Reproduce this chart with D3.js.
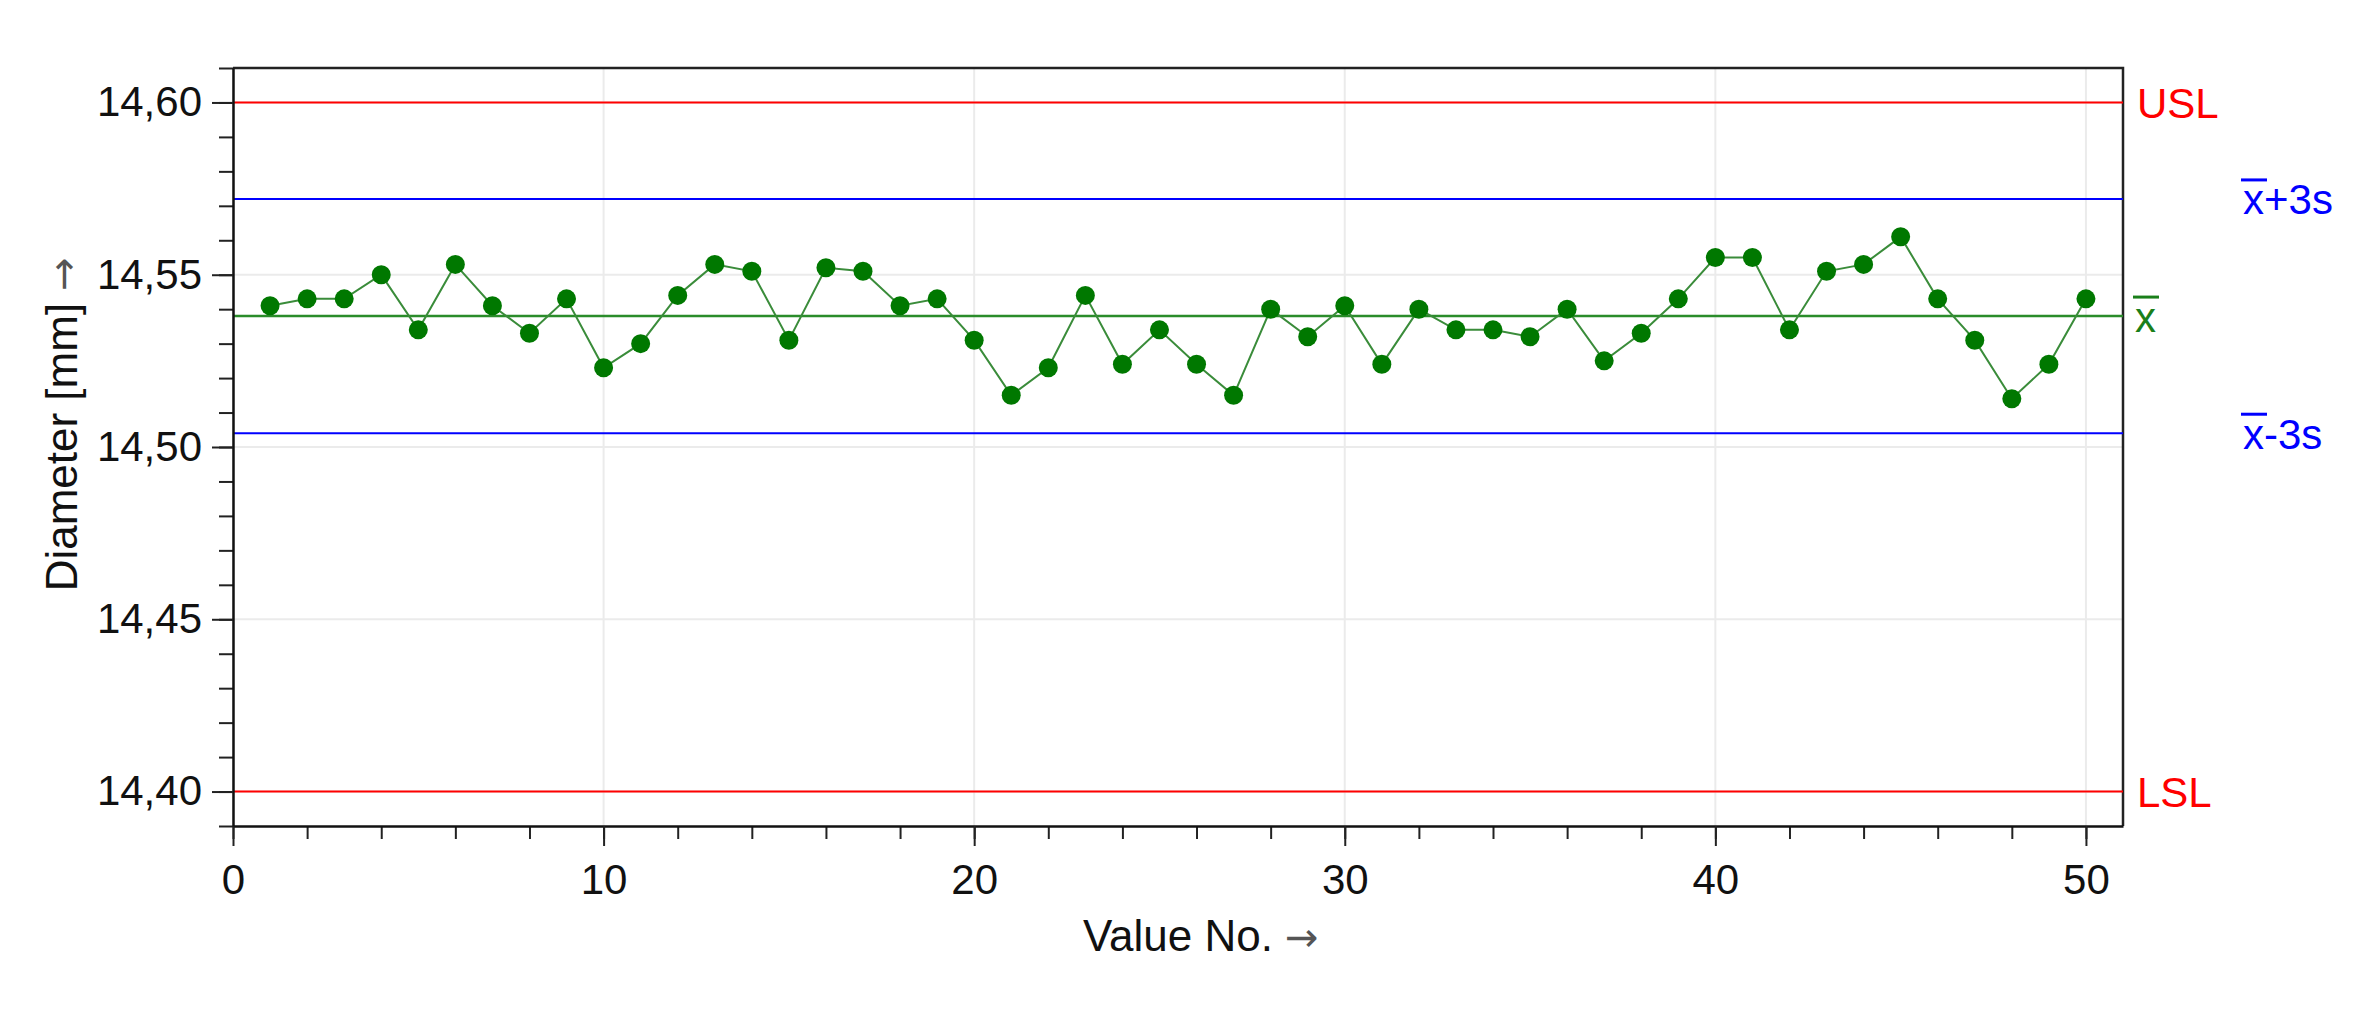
<!DOCTYPE html>
<html>
<head>
<meta charset="utf-8">
<script src="https://cdn.jsdelivr.net/npm/d3@7"></script>
<style>
  body { margin: 0; background: #fff; }
  svg { display: block; font-family: "Liberation Sans", Arial, sans-serif; }
</style>
</head>
<body>
<div id="chart"></div>
<script>
// Diameter measurements, value no. 1..50
const diameters = [
  14.541, 14.543, 14.543, 14.550, 14.534, 14.553, 14.541, 14.533, 14.543, 14.523,
  14.530, 14.544, 14.553, 14.551, 14.531, 14.552, 14.551, 14.541, 14.543, 14.531,
  14.515, 14.523, 14.544, 14.524, 14.534, 14.524, 14.515, 14.540, 14.532, 14.541,
  14.524, 14.540, 14.534, 14.534, 14.532, 14.540, 14.525, 14.533, 14.543, 14.555,
  14.555, 14.534, 14.551, 14.553, 14.561, 14.543, 14.531, 14.514, 14.524, 14.543
];

// Specification limits
const specLimits = [14.60, 14.40];
const specLabels = ['USL', 'LSL'];

// Mean and +/- 3s limits
const meanValue = 14.538;
const controlLimits = [14.572, 14.504];
const controlLabels = ['+3s', '-3s'];

// Axes
const xDomain = [0, 51];
const yDomain = [14.39, 14.61];
const xMajorTicks = [0, 10, 20, 30, 40, 50];
const xMinorTicks = d3.range(0, 51, 2);
const yMajorTicks = [14.40, 14.45, 14.50, 14.55, 14.60];
const yMinorTicks = d3.range(14.39, 14.6101, 0.01);

const width = 2368;
const height = 1014;
const margin = { top: 68, right: 245, bottom: 188, left: 233 };
const innerWidth = width - margin.left - margin.right;
const innerHeight = height - margin.top - margin.bottom;

const de = d3.formatLocale({ decimal: ',', thousands: '.', grouping: [3], currency: ['', ' €'] });
const fmt = de.format('.2f');

const svg = d3.select('#chart')
  .append('svg')
  .attr('width', width)
  .attr('height', height);

const g = svg.append('g')
  .attr('transform', `translate(${margin.left},${margin.top})`);

const xScale = d3.scaleLinear().domain(xDomain).range([0, innerWidth]);
const yScale = d3.scaleLinear().domain(yDomain).range([innerHeight, 0]);

// Grid
g.append('g')
  .selectAll('line')
  .data(xMajorTicks)
  .enter()
  .append('line')
  .attr('x1', d => xScale(d))
  .attr('x2', d => xScale(d))
  .attr('y1', 0)
  .attr('y2', innerHeight)
  .attr('stroke', '#ebebeb')
  .attr('stroke-width', 2);

g.append('g')
  .selectAll('line')
  .data(yMajorTicks)
  .enter()
  .append('line')
  .attr('x1', 0)
  .attr('x2', innerWidth)
  .attr('y1', d => yScale(d))
  .attr('y2', d => yScale(d))
  .attr('stroke', '#ebebeb')
  .attr('stroke-width', 2);

// Frame (top and right)
g.append('path')
  .attr('d', `M0,0H${innerWidth}V${innerHeight}`)
  .attr('fill', 'none')
  .attr('stroke', '#222')
  .attr('stroke-width', 2.5);

// x-bar label: overline drawn over the "x" glyph
function xBarLabel(parent, x, y, color, suffix) {
  const t = parent.append('text')
    .attr('x', x)
    .attr('y', y)
    .attr('dy', '0.37em')
    .attr('fill', color)
    .style('font-size', '42px');
  const xs = t.append('tspan').text('x');
  if (suffix) t.append('tspan').text(suffix);
  const w = xs.node().getComputedTextLength();
  parent.append('line')
    .attr('x1', x - 2)
    .attr('x2', x + w + 3)
    .attr('y1', y - 19)
    .attr('y2', y - 19)
    .attr('stroke', color)
    .attr('stroke-width', 3);
}

// Specification limits
specLimits.forEach((v, i) => {
  g.append('line')
    .attr('x1', 0).attr('x2', innerWidth)
    .attr('y1', yScale(v)).attr('y2', yScale(v))
    .attr('stroke', '#ff0000')
    .attr('stroke-width', 2);
  g.append('text')
    .attr('x', innerWidth + 14)
    .attr('y', yScale(v))
    .attr('dy', '0.37em')
    .attr('fill', '#ff0000')
    .style('font-size', '42px')
    .text(specLabels[i]);
});

// Control limits
controlLimits.forEach((v, i) => {
  g.append('line')
    .attr('x1', 0).attr('x2', innerWidth)
    .attr('y1', yScale(v)).attr('y2', yScale(v))
    .attr('stroke', '#0000ff')
    .attr('stroke-width', 2);
  xBarLabel(g, innerWidth + 120, yScale(v), '#0000ff', controlLabels[i]);
});

// Mean line
g.append('line')
  .attr('x1', 0).attr('x2', innerWidth)
  .attr('y1', yScale(meanValue)).attr('y2', yScale(meanValue))
  .attr('stroke', '#2a8c2a')
  .attr('stroke-width', 2.5);

xBarLabel(g, innerWidth + 12, yScale(meanValue), '#1a7f1a', null);

// Data line and points
const line = d3.line()
  .x((d, i) => xScale(i + 1))
  .y(d => yScale(d));

g.append('path')
  .datum(diameters)
  .attr('d', line)
  .attr('fill', 'none')
  .attr('stroke', '#3a8c3a')
  .attr('stroke-width', 2);

g.selectAll('.pt')
  .data(diameters)
  .enter()
  .append('circle')
  .attr('class', 'pt')
  .attr('cx', (d, i) => xScale(i + 1))
  .attr('cy', d => yScale(d))
  .attr('r', 9.5)
  .attr('fill', '#007800');

// X axis
const xMinor = g.append('g')
  .attr('transform', `translate(0,${innerHeight})`)
  .call(d3.axisBottom(xScale).tickValues(xMinorTicks).tickSize(13).tickFormat(''));
xMinor.selectAll('line').attr('stroke', '#222').attr('stroke-width', 2);
xMinor.select('.domain').remove();

const xAxis = g.append('g')
  .attr('transform', `translate(0,${innerHeight})`)
  .call(d3.axisBottom(xScale).tickValues(xMajorTicks).tickSize(20).tickSizeOuter(0).tickPadding(18).tickFormat(d3.format('d')));
xAxis.select('.domain').attr('stroke', '#111').attr('stroke-width', 2.5);
xAxis.selectAll('line').attr('stroke', '#222').attr('stroke-width', 2);
xAxis.selectAll('text')
  .style('font-size', '42px')
  .style('font-family', '"Liberation Sans", Arial, sans-serif')
  .attr('fill', '#111');

// Y axis
const yMinor = g.append('g')
  .call(d3.axisLeft(yScale).tickValues(yMinorTicks).tickSize(14).tickFormat(''));
yMinor.selectAll('line').attr('stroke', '#222').attr('stroke-width', 2);
yMinor.select('.domain').remove();

const yAxis = g.append('g')
  .call(d3.axisLeft(yScale).tickValues(yMajorTicks).tickSize(21).tickSizeOuter(0).tickPadding(10).tickFormat(fmt));
yAxis.select('.domain').attr('stroke', '#111').attr('stroke-width', 2.5);
yAxis.selectAll('line').attr('stroke', '#222').attr('stroke-width', 2);
yAxis.selectAll('text')
  .style('font-size', '42px')
  .style('font-family', '"Liberation Sans", Arial, sans-serif')
  .attr('fill', '#111');

// Axis titles (centred on the words, arrow appended)
function axisTitle(parent, main, transform) {
  const t = parent.append('text')
    .attr('transform', transform)
    .attr('fill', '#111')
    .style('font-size', '44px');
  const m = t.append('tspan').text(main + ' ');
  t.append('tspan')
    .attr('fill', '#555')
    .style('font-family', '"DejaVu Sans", sans-serif')
    .style('font-size', '40px')
    .text('\u2192');
  const len = m.node().getComputedTextLength();
  t.attr('x', -(len - 12) / 2);
  return t;
}

axisTitle(svg, 'Value No.', `translate(${margin.left + innerWidth / 2},951)`);
axisTitle(svg, 'Diameter [mm]', `translate(77,${margin.top + innerHeight / 2}) rotate(-90)`);
</script>
</body>
</html>
